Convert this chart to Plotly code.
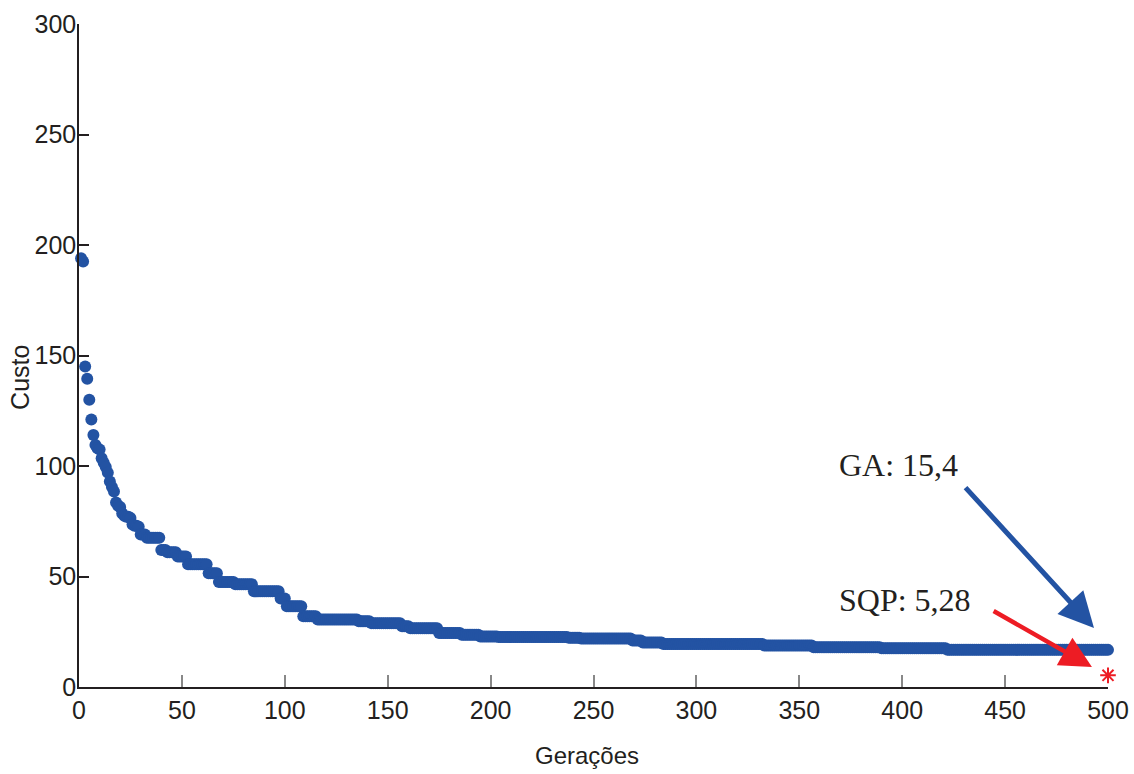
import numpy as np
import plotly.graph_objects as go

# ---- data ----
early_costs = [194, 192.5, 145, 139.5, 130, 121, 114, 109.5, 108, 107.5,
               103.5, 101.5, 99.5, 97, 93, 90.5, 88.5, 83.5, 82, 81.5,
               78.5, 77.5, 77, 77, 76.5, 73.5, 73, 73, 72.5]
plateau_end = [32, 39, 42, 47, 52, 62, 67, 75, 84, 97, 100, 108, 115, 135,
               141, 156, 160, 174, 185, 194, 203, 237, 243, 268, 273, 283,
               332, 356, 389, 421, 500]
plateau_cost = [69, 67.5, 62, 61, 59, 55.5, 51.5, 47.5, 46.5, 43.3, 40, 36.5,
                32, 30.5, 29.7, 28.9, 27.5, 26.6, 24.4, 23.6, 22.9, 22.6, 22.3,
                21.9, 21, 20.1, 19.5, 18.8, 18, 17.5, 16.8]
sqp_generation = [500]
sqp_cost = [5.28]
x_ticks = [0, 50, 100, 150, 200, 250, 300, 350, 400, 450, 500]
y_ticks = [0, 50, 100, 150, 200, 250, 300]

costs = list(early_costs)
start = len(early_costs) + 1
for end, c in zip(plateau_end, plateau_cost):
    costs += [c] * (end - start + 1)
    start = end + 1
generations = np.arange(1, len(costs) + 1)

BLUE = "#2353a3"
RED = "#ed1c24"
INK = "#231f20"
SANS = "Liberation Sans, Arial, sans-serif"

fig = go.Figure()
fig.add_trace(go.Scatter(
    x=generations, y=costs, mode="markers",
    marker=dict(color=BLUE, size=12, line=dict(width=0)),
    cliponaxis=False, showlegend=False))
fig.add_trace(go.Scatter(
    x=sqp_generation, y=sqp_cost, mode="markers",
    marker=dict(symbol="asterisk-open", color=RED, size=13,
                line=dict(color=RED, width=2)),
    cliponaxis=False, showlegend=False))

serif = dict(family="Liberation Serif, Times New Roman, serif", size=32, color=INK)
fig.add_annotation(x=368.4, y=100.4, xref="x", yref="y", text="GA: 15,4",
                   showarrow=False, xanchor="left", yanchor="middle", font=serif)
fig.add_annotation(x=368.4, y=39.4, xref="x", yref="y", text="SQP: 5,28",
                   showarrow=False, xanchor="left", yanchor="middle", font=serif)
fig.add_annotation(x=493.2, y=26.7, ax=430.1, ay=90.9, xref="x", yref="y",
                   axref="x", ayref="y", text="", showarrow=True,
                   arrowhead=2, arrowsize=1.4, arrowwidth=5, arrowcolor=BLUE)
fig.add_annotation(x=492.2, y=9.0, ax=443.7, ay=34.8, xref="x", yref="y",
                   axref="x", ayref="y", text="", showarrow=True,
                   arrowhead=2, arrowsize=1.4, arrowwidth=4.5, arrowcolor=RED)

# axis titles
fig.add_annotation(x=-0.0574, y=0.4676, xref="paper", yref="paper", text="Custo",
                   showarrow=False, textangle=-90, xanchor="center", yanchor="middle",
                   font=dict(family=SANS, size=25, color=INK))
fig.add_annotation(x=0.4937, y=-0.1026, xref="paper", yref="paper", text="Gerações",
                   showarrow=False, xanchor="center", yanchor="middle",
                   font=dict(family=SANS, size=24, color=INK))

tick_font = dict(family=SANS, size=25, color=INK)
fig.update_xaxes(range=[0, 500], tickvals=x_ticks, ticks="inside", ticklen=12,
                 tickcolor="#888888", tickwidth=1.5, showline=True,
                 linecolor=INK, linewidth=1.5, showgrid=False, zeroline=False,
                 tickfont=tick_font, automargin=False)
fig.update_yaxes(range=[0, 300], tickvals=y_ticks, ticks="inside", ticklen=10,
                 tickcolor=INK, tickwidth=1.5, showline=True,
                 linecolor=INK, linewidth=1.5, showgrid=False, zeroline=False,
                 tickfont=tick_font, automargin=False, ticklabelstandoff=-4)
fig.update_layout(width=1134, height=774, plot_bgcolor="white",
                  paper_bgcolor="white",
                  margin=dict(l=79, r=26, t=24, b=87))
fig.write_html("out.html")
